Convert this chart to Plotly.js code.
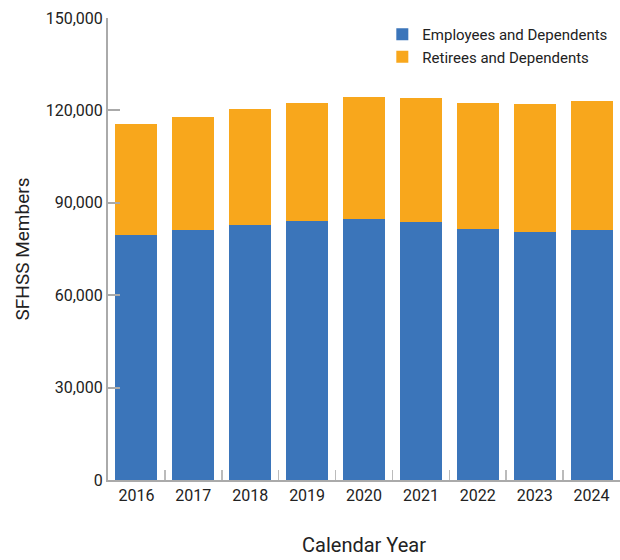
<!DOCTYPE html>
<html>
<head>
<meta charset="utf-8">
<script src="https://cdn.plot.ly/plotly-3.0.1.min.js"></script>
<style>
html,body{margin:0;padding:0;background:#fff;}
</style>
</head>
<body>
<div id="chart" style="width:620px;height:560px;"></div>
<script>
const years = ["2016","2017","2018","2019","2020","2021","2022","2023","2024"];
const employees = [79600, 81250, 82900, 84200, 84800, 83850, 81600, 80600, 81250];
const retirees = [36100, 36750, 37700, 38300, 39700, 40300, 40900, 41600, 41950];
const yTicks = [0, 30000, 60000, 90000, 120000, 150000];
const yTickText = ["0", "30,000", "60,000", "90,000", "120,000", "150,000"];

const FONT = 'Roboto, "Liberation Sans", sans-serif';

const traces = [
  {type: 'bar', name: 'Employees and Dependents', x: years, y: employees,
   marker: {color: '#3b75ba'}},
  {type: 'bar', name: 'Retirees and Dependents', x: years, y: retirees,
   marker: {color: '#f8a71c'}}
];

const layout = {
  width: 620, height: 560,
  barmode: 'stack', bargap: 0.26,
  margin: {l: 108, r: 0, t: 18, b: 80},
  paper_bgcolor: '#fff', plot_bgcolor: '#fff',
  font: {family: FONT, color: '#222', size: 16},
  showlegend: true,
  legend: {x: 0.985, y: 1.0, xanchor: 'right', yanchor: 'top', traceorder: 'normal',
           font: {size: 15, family: FONT, color: '#222'}, bgcolor: 'rgba(0,0,0,0)'},
  xaxis: {
    type: 'category', showline: true, linecolor: '#aaa', linewidth: 2,
    ticks: 'inside', tickson: 'boundaries', ticklen: 10, tickcolor: '#bbb', tickwidth: 1.5,
    tickfont: {size: 16, family: FONT, color: '#222'},
    title: {text: 'Calendar Year', font: {size: 20, family: FONT, color: '#222'}, standoff: 34},
    automargin: false
  },
  yaxis: {
    range: [0, 150000], tickvals: yTicks, ticktext: yTickText,
    showline: true, linecolor: '#aaa', linewidth: 2, showgrid: false, zeroline: false,
    ticks: 'inside', ticklen: 12, tickcolor: '#aaa', tickwidth: 2,
    tickfont: {size: 16, family: FONT, color: '#222'},
    title: {text: 'SFHSS Members', font: {size: 19, family: FONT, color: '#222'}, standoff: 11},
    automargin: false
  }
};

Plotly.newPlot('chart', traces, layout, {displayModeBar: false, staticPlot: true});
</script>
</body>
</html>
